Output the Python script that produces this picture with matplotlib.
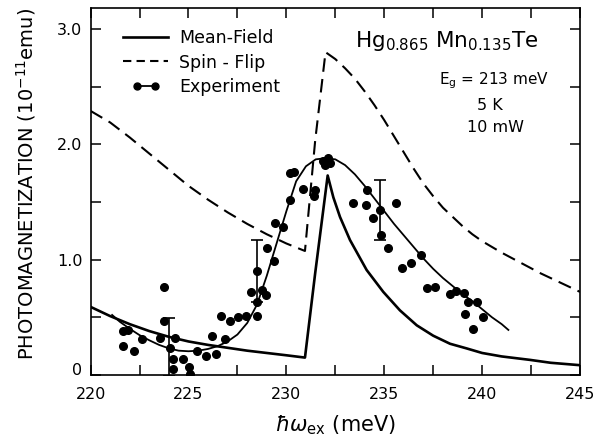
import matplotlib
matplotlib.use("Agg")
import matplotlib.pyplot as plt
import matplotlib.transforms as mtransforms
from matplotlib.legend_handler import HandlerLine2D
from matplotlib.lines import Line2D

plt.rcParams['font.family'] = ['DejaVu Sans']
plt.rcParams['mathtext.fontset'] = 'dejavusans'

# Mean-field theory curve
mf_x = [220, 221, 222, 223, 224, 225, 226, 227, 228, 229, 230, 230.95,
        231.47, 232.11, 232.4, 232.74, 233.25, 234.1, 234.95, 235.8, 236.66,
        237.5, 238.36, 239.2, 240, 241, 242.45, 243.5, 245]
mf_y = [0.59, 0.51, 0.44, 0.38, 0.33, 0.29, 0.26, 0.235, 0.21, 0.19, 0.17, 0.15,
        0.88, 1.73, 1.54, 1.37, 1.17, 0.91, 0.72, 0.56, 0.43,
        0.34, 0.27, 0.23, 0.19, 0.16, 0.13, 0.105, 0.084]

# Spin-flip theory curve
sf_x = [220, 221, 222, 223, 224, 225, 226, 227, 228, 229, 230, 230.95,
        231.47, 232.0, 232.5, 233.0, 233.5, 234.0, 234.5, 235.0, 235.5, 236.0,
        236.5, 237.0, 237.5, 238.0, 238.5, 239.0, 239.5, 240.0, 241.0, 242.0,
        243.0, 244.0, 245.0]
sf_y = [2.29, 2.19, 2.06, 1.92, 1.78, 1.64, 1.52, 1.41, 1.31, 1.22, 1.14, 1.075,
        2.03, 2.80, 2.74, 2.66, 2.57, 2.46, 2.34, 2.21, 2.07, 1.93,
        1.79, 1.66, 1.55, 1.45, 1.37, 1.29, 1.22, 1.16, 1.06, 0.97,
        0.88, 0.80, 0.72]

# Guide line through experiment
fit_x = [221.1, 221.5, 222.0, 222.5, 223.0, 223.5, 224.0, 224.5, 225.0, 225.5,
         226.0, 226.5, 227.0, 227.5, 228.0, 228.5, 229.0, 229.5, 230.0, 230.5,
         231.0, 231.5, 232.0, 232.5, 233.0, 233.5, 234.0, 234.5, 235.0, 235.5,
         236.0, 236.5, 237.0, 237.5, 238.0, 238.5, 239.0, 239.5, 240.0, 240.5,
         241.0, 241.34]
fit_y = [0.52, 0.46, 0.40, 0.345, 0.30, 0.26, 0.23, 0.21, 0.205, 0.21,
         0.225, 0.25, 0.29, 0.35, 0.45, 0.61, 0.86, 1.14, 1.42, 1.68,
         1.81, 1.87, 1.88, 1.87, 1.82, 1.74, 1.64, 1.53, 1.42, 1.31,
         1.21, 1.11, 1.01, 0.92, 0.84, 0.77, 0.70, 0.64, 0.57, 0.50,
         0.44, 0.39]

# Experimental points
exp_x = [221.64, 221.68, 221.93, 222.24, 222.65, 223.55, 223.75, 223.75, 224.06,
         224.20, 224.23, 224.32, 224.70, 225.03, 225.08, 225.45, 225.90, 226.20,
         226.41, 226.67, 226.87, 227.12, 227.55, 227.95, 228.18, 228.49, 228.52,
         228.52, 228.74, 228.96, 229.00, 229.39, 229.43, 229.82, 230.19, 230.19,
         230.41, 230.87, 231.41, 231.47, 231.86, 231.98, 232.15, 232.23, 233.42,
         234.07, 234.10, 234.41, 234.79, 234.84, 235.21, 235.60, 235.89, 236.37,
         236.86, 237.20, 237.61, 238.36, 238.67, 239.08, 239.13, 239.30, 239.52,
         239.75, 240.03]
exp_y = [0.25, 0.38, 0.39, 0.21, 0.315, 0.32, 0.76, 0.47, 0.23,
         0.14, 0.055, 0.32, 0.14, 0.07, 0.01, 0.21, 0.16, 0.34,
         0.18, 0.51, 0.31, 0.47, 0.50, 0.51, 0.72, 0.51, 0.63,
         0.90, 0.74, 0.69, 1.10, 0.99, 1.32, 1.28, 1.52, 1.75,
         1.76, 1.61, 1.55, 1.60, 1.86, 1.82, 1.88, 1.84, 1.49,
         1.47, 1.60, 1.36, 1.43, 1.21, 1.10, 1.49, 0.93, 0.97,
         1.04, 0.755, 0.76, 0.70, 0.73, 0.71, 0.53, 0.63, 0.40,
         0.63, 0.50]

# Error bars
err_x = [224.03, 228.52, 234.79]
err_y = [0.24, 0.90, 1.43]
err_e = [0.25, 0.27, 0.26]

fig = plt.figure(figsize=(6.08, 4.4), dpi=100)
ax = fig.add_axes([0.149, 0.148, 0.805, 0.833])

ax.plot(mf_x, mf_y, color='black', lw=1.9, solid_joinstyle='round')
ax.plot(sf_x, sf_y, color='black', lw=1.5, dashes=(6.5, 3.5))
ax.plot(fit_x, fit_y, color='black', lw=1.3)
ax.plot(exp_x, exp_y, 'o', color='black', ms=5.5, mec='black', ls='none')
ax.errorbar(err_x, err_y, yerr=err_e, fmt='none', ecolor='black',
            elinewidth=1.2, capsize=4, capthick=1.2)

ax.set_xlim(220, 245)
ax.set_ylim(0, 3.18)
ax.set_xticks([220, 225, 230, 235, 240, 245])
ax.set_xticks([222.5, 227.5, 232.5, 237.5, 242.5], minor=True)
ax.set_yticks([0, 1.0, 2.0, 3.0])
ax.set_yticklabels(['0', '1.0', '2.0', '3.0'])
ax.set_yticks([0.5, 1.5, 2.5], minor=True)
ax.tick_params(which='both', direction='in', top=True, right=True,
               length=7, width=1.1, labelsize=11.5)
ax.tick_params(axis='x', pad=9)
ax.tick_params(axis='y', pad=6)
for s in ax.spines.values():
    s.set_linewidth(1.2)

# nudge the "0" label upward so it clears "220"
lbl0 = ax.get_yticklabels()[0]
lbl0.set_transform(lbl0.get_transform() +
                   mtransforms.ScaledTranslation(0, 4 / 72, fig.dpi_scale_trans))

ax.set_xlabel(r'$\hbar\omega_{\mathrm{ex}}$ (meV)', fontsize=15, labelpad=8)
ax.set_ylabel(r'PHOTOMAGNETIZATION (10$^{-11}$emu)', fontsize=14)
ax.yaxis.set_label_coords(-0.107, 0.52)

ax.text(238.2, 2.90, r'Hg$_{0.865}$ Mn$_{0.135}$Te', fontsize=15.5,
        ha='center', va='center')
ax.text(240.6, 2.55, r'E$_{\mathrm{g}}$ = 213 meV', fontsize=11,
        ha='center', va='center')
ax.text(240.4, 2.34, '5 K', fontsize=11.5, ha='center', va='center')
ax.text(240.66, 2.15, '10 mW', fontsize=11.5, ha='center', va='center')

h1 = Line2D([], [], color='black', lw=1.9)
h2 = Line2D([], [], color='black', lw=1.5, dashes=(4, 2.5))
h3 = Line2D([], [], color='black', lw=1.3, marker='o', ms=5)
leg = ax.legend([h1, h2, h3], ['Mean-Field', 'Spin - Flip', 'Experiment'],
                loc='upper left', bbox_to_anchor=(0.035, 0.985), frameon=False,
                fontsize=12.5, handlelength=2.6, handletextpad=0.6,
                labelspacing=0.35,
                handler_map={h3: HandlerLine2D(numpoints=2, marker_pad=0.8)})

fig.savefig('out.png', dpi=100)
